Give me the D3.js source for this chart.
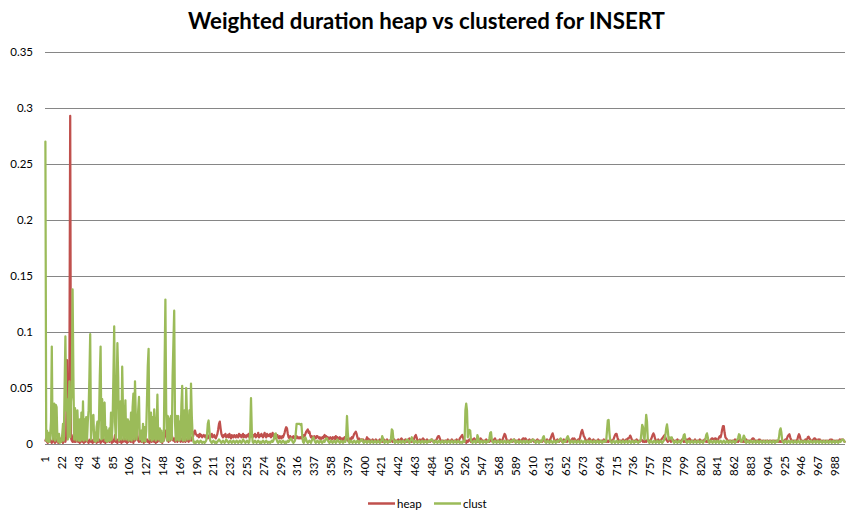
<!DOCTYPE html>
<html><head><meta charset="utf-8">
<script src="https://cdn.jsdelivr.net/npm/d3@7"></script>
<style>body{margin:0;background:#fff}svg{display:block}</style>
</head><body><svg id="c" width="855" height="516"></svg>
<script>
const heap = [
0.003,0.005,0.002,0.001,0.004,0.006,0.003,0.002,0.001,0.003,0.005,0.002,0.001,0.002,0.004,0.003,0.001,0.002,0.005,0.003,
0.002,0.004,0.001,0.003,0.005,0.002,0.006,0.075,0.015,0.012,0.057,0.293,0.005,0.003,0.002,0.008,0.002,0.003,0.002,0.005,
0.003,0.002,0.004,0.001,0.003,0.005,0.002,0.003,0.001,0.004,0.002,0.003,0.005,0.002,0.001,0.003,0.004,0.002,0.003,0.001,
0.004,0.002,0.003,0.005,0.001,0.003,0.002,0.004,0.003,0.001,0.002,0.005,0.003,0.002,0.004,0.001,0.003,0.002,0.004,0.003,
0.002,0.005,0.003,0.001,0.004,0.002,0.003,0.008,0.002,0.004,0.001,0.003,0.005,0.002,0.003,0.001,0.004,0.002,0.003,0.005,
0.002,0.003,0.001,0.004,0.002,0.005,0.003,0.002,0.004,0.003,0.001,0.005,0.003,0.012,0.020,0.008,0.003,0.002,0.004,0.003,
0.002,0.004,0.003,0.001,0.005,0.002,0.003,0.004,0.002,0.003,0.001,0.004,0.003,0.002,0.005,0.003,0.002,0.004,0.001,0.003,
0.002,0.004,0.003,0.005,0.002,0.003,0.001,0.004,0.003,0.008,0.012,0.009,0.004,0.003,0.002,0.005,0.003,0.013,0.008,0.004,
0.003,0.005,0.002,0.004,0.003,0.002,0.005,0.003,0.004,0.002,0.003,0.005,0.002,0.004,0.003,0.002,0.004,0.003,0.005,0.002,
0.004,0.005,0.003,0.006,0.005,0.008,0.011,0.012,0.009,0.008,0.007,0.008,0.006,0.009,0.007,0.008,0.006,0.007,0.008,0.007,
0.006,0.008,0.007,0.005,0.007,0.008,0.006,0.007,0.009,0.006,0.007,0.008,0.006,0.005,0.007,0.009,0.013,0.018,0.020,0.014,
0.009,0.007,0.006,0.008,0.007,0.009,0.006,0.007,0.008,0.006,0.009,0.007,0.005,0.008,0.007,0.006,0.008,0.007,0.006,0.008,
0.007,0.006,0.009,0.007,0.008,0.006,0.007,0.009,0.006,0.008,0.007,0.006,0.008,0.007,0.009,0.006,0.007,0.008,0.007,0.006,
0.008,0.007,0.009,0.006,0.008,0.007,0.010,0.006,0.008,0.007,0.009,0.007,0.006,0.008,0.010,0.007,0.006,0.009,0.007,0.008,
0.007,0.009,0.006,0.008,0.010,0.007,0.006,0.005,0.007,0.006,0.008,0.006,0.005,0.007,0.006,0.005,0.007,0.006,0.008,0.010,
0.013,0.015,0.014,0.009,0.006,0.005,0.007,0.006,0.005,0.006,0.007,0.005,0.006,0.005,0.007,0.006,0.005,0.006,0.005,0.006,
0.005,0.007,0.006,0.008,0.007,0.009,0.011,0.012,0.013,0.010,0.011,0.008,0.006,0.007,0.005,0.006,0.007,0.006,0.005,0.007,
0.007,0.006,0.005,0.006,0.004,0.005,0.006,0.005,0.007,0.008,0.006,0.007,0.005,0.006,0.004,0.005,0.006,0.005,0.004,0.006,
0.005,0.006,0.004,0.007,0.005,0.006,0.004,0.005,0.006,0.004,0.005,0.003,0.005,0.004,0.006,0.004,0.005,0.004,0.003,0.005,
0.004,0.005,0.004,0.006,0.005,0.007,0.009,0.010,0.011,0.009,0.006,0.004,0.005,0.004,0.003,0.004,0.003,0.004,0.003,0.002,
0.003,0.004,0.006,0.005,0.003,0.004,0.003,0.002,0.003,0.004,0.003,0.002,0.003,0.004,0.003,0.003,0.002,0.003,0.004,0.003,
0.003,0.002,0.003,0.004,0.003,0.002,0.003,0.004,0.003,0.002,0.003,0.002,0.004,0.003,0.002,0.003,0.004,0.003,0.002,0.003,
0.003,0.004,0.003,0.002,0.004,0.005,0.004,0.003,0.002,0.003,0.004,0.003,0.002,0.003,0.004,0.005,0.004,0.003,0.002,0.003,
0.003,0.005,0.007,0.008,0.006,0.003,0.002,0.003,0.004,0.003,0.002,0.004,0.005,0.004,0.003,0.002,0.003,0.004,0.003,0.002,
0.003,0.002,0.003,0.004,0.003,0.002,0.003,0.002,0.003,0.004,0.006,0.007,0.007,0.005,0.003,0.002,0.003,0.002,0.003,0.002,
0.003,0.002,0.003,0.004,0.003,0.003,0.002,0.003,0.004,0.003,0.002,0.003,0.002,0.003,0.004,0.003,0.002,0.003,0.005,0.006,
0.007,0.008,0.006,0.003,0.002,0.003,0.001,0.003,0.002,0.003,0.004,0.003,0.002,0.003,0.004,0.003,0.005,0.004,0.003,0.002,
0.003,0.002,0.003,0.004,0.005,0.004,0.003,0.002,0.003,0.002,0.003,0.004,0.003,0.002,0.003,0.002,0.003,0.004,0.003,0.002,
0.003,0.004,0.005,0.003,0.002,0.003,0.002,0.003,0.004,0.003,0.002,0.003,0.005,0.007,0.009,0.008,0.005,0.003,0.002,0.003,
0.002,0.003,0.004,0.003,0.002,0.003,0.004,0.003,0.002,0.003,0.002,0.003,0.004,0.003,0.002,0.003,0.004,0.005,0.005,0.004,
0.005,0.004,0.003,0.002,0.003,0.004,0.003,0.002,0.003,0.004,0.003,0.002,0.003,0.002,0.003,0.004,0.003,0.002,0.003,0.002,
0.003,0.002,0.003,0.004,0.003,0.002,0.003,0.004,0.003,0.002,0.003,0.004,0.006,0.008,0.0095,0.007,0.004,0.003,0.002,0.003,
0.004,0.003,0.002,0.003,0.004,0.003,0.002,0.003,0.004,0.003,0.002,0.003,0.002,0.003,0.004,0.003,0.002,0.003,0.004,0.005,
0.004,0.005,0.004,0.003,0.002,0.003,0.004,0.003,0.005,0.008,0.011,0.0125,0.010,0.007,0.006,0.004,0.003,0.002,0.003,0.004,
0.005,0.004,0.003,0.002,0.003,0.004,0.003,0.002,0.003,0.002,0.003,0.004,0.003,0.003,0.002,0.003,0.002,0.003,0.004,0.003,
0.002,0.003,0.002,0.003,0.002,0.003,0.004,0.003,0.002,0.003,0.004,0.006,0.008,0.009,0.009,0.006,0.004,0.003,0.002,0.003,
0.002,0.003,0.004,0.003,0.002,0.003,0.004,0.003,0.005,0.005,0.006,0.0075,0.006,0.004,0.003,0.002,0.003,0.002,0.003,0.004,
0.003,0.002,0.003,0.002,0.003,0.004,0.003,0.002,0.003,0.002,0.003,0.002,0.003,0.004,0.003,0.002,0.003,0.004,0.006,0.008,
0.0095,0.008,0.005,0.003,0.002,0.003,0.004,0.003,0.002,0.003,0.004,0.005,0.006,0.007,0.008,0.006,0.004,0.003,0.002,0.003,
0.004,0.003,0.002,0.003,0.004,0.003,0.002,0.003,0.002,0.003,0.004,0.003,0.002,0.003,0.002,0.003,0.004,0.003,0.002,0.003,
0.002,0.003,0.004,0.003,0.004,0.005,0.004,0.003,0.002,0.003,0.002,0.003,0.004,0.003,0.002,0.003,0.002,0.003,0.004,0.003,
0.002,0.003,0.002,0.003,0.004,0.003,0.002,0.003,0.002,0.003,0.002,0.003,0.004,0.005,0.005,0.004,0.003,0.005,0.005,0.004,
0.003,0.004,0.006,0.007,0.006,0.009,0.013,0.016,0.016,0.010,0.006,0.005,0.004,0.003,0.002,0.003,0.002,0.003,0.002,0.003,
0.002,0.003,0.004,0.003,0.002,0.003,0.002,0.003,0.004,0.003,0.002,0.003,0.002,0.003,0.002,0.003,0.004,0.003,0.002,0.003,
0.003,0.002,0.003,0.004,0.005,0.005,0.004,0.003,0.002,0.003,0.002,0.003,0.004,0.004,0.003,0.002,0.003,0.002,0.003,0.002,
0.003,0.002,0.003,0.003,0.002,0.003,0.002,0.003,0.002,0.003,0.002,0.003,0.002,0.003,0.002,0.003,0.002,0.003,0.002,0.002,
0.003,0.002,0.003,0.002,0.003,0.004,0.003,0.005,0.007,0.008,0.0087,0.006,0.004,0.003,0.002,0.003,0.002,0.003,0.002,0.003,
0.004,0.007,0.0087,0.007,0.004,0.003,0.002,0.003,0.002,0.003,0.004,0.003,0.004,0.006,0.0065,0.005,0.004,0.003,0.002,0.003,
0.004,0.005,0.005,0.004,0.003,0.003,0.004,0.003,0.004,0.003,0.002,0.003,0.002,0.003,0.002,0.003,0.002,0.003,0.002,0.003,
0.003,0.004,0.004,0.004,0.003,0.002,0.003,0.002,0.003,0.002,0.003,0.002,0.003,0.004,0.003,0.004,0.004,0.004,0.003,0.002
];
const clust = [
0.270,0.003,0.012,0.002,0.010,0.002,0.008,0.020,0.087,0.004,0.030,0.036,0.003,0.035,0.033,0.004,0.002,0.009,0.001,0.004,
0.002,0.008,0.018,0.003,0.050,0.096,0.030,0.040,0.004,0.035,0.056,0.006,0.038,0.045,0.138,0.060,0.004,0.032,0.018,0.003,
0.030,0.012,0.003,0.022,0.003,0.028,0.004,0.038,0.003,0.022,0.004,0.024,0.003,0.020,0.030,0.060,0.098,0.004,0.015,0.025,
0.026,0.003,0.010,0.002,0.015,0.020,0.003,0.022,0.060,0.087,0.004,0.040,0.005,0.036,0.037,0.003,0.015,0.002,0.012,0.003,
0.014,0.003,0.028,0.004,0.020,0.060,0.105,0.020,0.004,0.045,0.090,0.060,0.003,0.010,0.038,0.004,0.069,0.030,0.004,0.022,
0.039,0.004,0.012,0.022,0.003,0.020,0.004,0.028,0.003,0.033,0.045,0.004,0.056,0.025,0.004,0.015,0.030,0.042,0.004,0.008,
0.012,0.002,0.018,0.003,0.015,0.002,0.012,0.040,0.070,0.085,0.004,0.020,0.028,0.003,0.024,0.004,0.031,0.018,0.003,0.010,
0.044,0.004,0.008,0.014,0.002,0.012,0.002,0.010,0.003,0.070,0.129,0.030,0.003,0.025,0.020,0.003,0.022,0.025,0.004,0.060,
0.090,0.119,0.020,0.003,0.025,0.004,0.025,0.003,0.020,0.004,0.035,0.052,0.003,0.015,0.030,0.003,0.050,0.025,0.004,0.012,
0.030,0.004,0.054,0.025,0.008,0.002,0.001,0.002,0.001,0.002,0.003,0.002,0.001,0.002,0.003,0.002,0.001,0.002,0.002,0.001,
0.002,0.003,0.008,0.018,0.021,0.012,0.003,0.002,0.001,0.002,0.003,0.002,0.001,0.002,0.001,0.002,0.003,0.004,0.003,0.002,
0.001,0.002,0.003,0.002,0.001,0.002,0.004,0.003,0.002,0.001,0.002,0.003,0.002,0.001,0.002,0.003,0.002,0.001,0.002,0.003,
0.002,0.001,0.002,0.003,0.002,0.001,0.002,0.004,0.003,0.002,0.001,0.002,0.003,0.002,0.001,0.002,0.010,0.041,0.012,0.002,
0.001,0.002,0.003,0.002,0.001,0.002,0.003,0.002,0.001,0.002,0.001,0.002,0.003,0.002,0.001,0.002,0.003,0.002,0.001,0.002,
0.002,0.001,0.002,0.003,0.002,0.003,0.006,0.009,0.0095,0.004,0.002,0.001,0.002,0.003,0.002,0.001,0.002,0.003,0.002,0.001,
0.002,0.001,0.002,0.003,0.002,0.003,0.004,0.005,0.004,0.002,0.001,0.002,0.003,0.010,0.018,0.018,0.018,0.018,0.018,0.017,
0.018,0.008,0.002,0.001,0.003,0.006,0.004,0.002,0.001,0.002,0.003,0.002,0.001,0.003,0.005,0.006,0.004,0.002,0.001,0.002,
0.003,0.002,0.001,0.002,0.003,0.002,0.001,0.002,0.003,0.002,0.004,0.005,0.005,0.003,0.002,0.001,0.002,0.003,0.002,0.001,
0.002,0.003,0.002,0.001,0.002,0.004,0.003,0.002,0.001,0.002,0.003,0.002,0.001,0.002,0.003,0.002,0.008,0.025,0.010,0.002,
0.001,0.002,0.003,0.002,0.001,0.002,0.003,0.002,0.001,0.002,0.003,0.002,0.001,0.002,0.003,0.004,0.004,0.002,0.001,0.002,
0.003,0.002,0.001,0.002,0.003,0.002,0.001,0.002,0.003,0.002,0.001,0.002,0.003,0.002,0.001,0.002,0.003,0.002,0.001,0.002,
0.003,0.007,0.005,0.002,0.001,0.002,0.003,0.002,0.001,0.002,0.003,0.002,0.005,0.013,0.012,0.004,0.002,0.001,0.002,0.003,
0.002,0.001,0.002,0.003,0.002,0.001,0.002,0.003,0.002,0.001,0.002,0.003,0.004,0.004,0.002,0.001,0.002,0.004,0.006,0.004,
0.002,0.001,0.002,0.003,0.002,0.001,0.002,0.003,0.002,0.001,0.002,0.003,0.002,0.001,0.002,0.003,0.002,0.001,0.002,0.003,
0.002,0.003,0.004,0.004,0.003,0.002,0.001,0.002,0.003,0.002,0.001,0.002,0.003,0.002,0.001,0.002,0.003,0.002,0.001,0.002,
0.003,0.002,0.001,0.002,0.003,0.002,0.001,0.002,0.003,0.002,0.001,0.002,0.003,0.002,0.001,0.002,0.003,0.002,0.001,0.002,
0.002,0.001,0.002,0.003,0.002,0.030,0.036,0.030,0.006,0.012,0.0125,0.012,0.003,0.002,0.001,0.002,0.003,0.002,0.001,0.002,
0.008,0.006,0.002,0.001,0.002,0.003,0.002,0.001,0.002,0.003,0.002,0.001,0.002,0.003,0.002,0.005,0.010,0.0105,0.004,0.002,
0.001,0.002,0.003,0.002,0.001,0.002,0.003,0.002,0.001,0.002,0.003,0.002,0.001,0.002,0.003,0.002,0.001,0.002,0.003,0.002,
0.001,0.002,0.003,0.002,0.003,0.004,0.004,0.002,0.001,0.002,0.003,0.002,0.001,0.002,0.003,0.002,0.001,0.002,0.003,0.002,
0.001,0.002,0.003,0.002,0.001,0.002,0.003,0.002,0.003,0.004,0.004,0.003,0.002,0.001,0.002,0.003,0.002,0.001,0.002,0.003,
0.002,0.003,0.006,0.007,0.004,0.002,0.001,0.002,0.003,0.002,0.001,0.002,0.003,0.002,0.001,0.002,0.003,0.002,0.001,0.002,
0.003,0.002,0.003,0.004,0.005,0.004,0.002,0.001,0.002,0.003,0.002,0.004,0.006,0.007,0.005,0.002,0.001,0.002,0.003,0.002,
0.001,0.002,0.003,0.002,0.001,0.002,0.003,0.002,0.001,0.002,0.003,0.002,0.001,0.002,0.003,0.002,0.001,0.002,0.003,0.002,
0.001,0.002,0.003,0.002,0.001,0.002,0.003,0.002,0.001,0.002,0.003,0.002,0.001,0.002,0.003,0.002,0.001,0.002,0.003,0.002,
0.002,0.003,0.012,0.021,0.0215,0.010,0.003,0.002,0.001,0.002,0.003,0.002,0.001,0.002,0.003,0.002,0.001,0.002,0.003,0.002,
0.001,0.002,0.003,0.002,0.001,0.002,0.003,0.002,0.001,0.002,0.003,0.002,0.001,0.002,0.003,0.002,0.001,0.002,0.003,0.002,
0.002,0.001,0.002,0.003,0.003,0.010,0.017,0.015,0.006,0.004,0.015,0.026,0.020,0.004,0.002,0.001,0.002,0.003,0.002,0.001,
0.002,0.003,0.002,0.001,0.002,0.003,0.002,0.001,0.002,0.003,0.002,0.001,0.002,0.003,0.005,0.008,0.014,0.0175,0.012,0.004,
0.006,0.005,0.006,0.006,0.003,0.002,0.001,0.002,0.003,0.002,0.001,0.002,0.003,0.002,0.001,0.002,0.003,0.005,0.008,0.0087,
0.004,0.002,0.001,0.002,0.003,0.002,0.001,0.002,0.003,0.002,0.001,0.002,0.003,0.002,0.001,0.002,0.003,0.002,0.001,0.002,
0.003,0.002,0.001,0.002,0.003,0.004,0.008,0.0095,0.006,0.002,0.001,0.002,0.003,0.002,0.001,0.002,0.003,0.002,0.001,0.002,
0.003,0.002,0.001,0.002,0.003,0.002,0.001,0.002,0.003,0.002,0.001,0.002,0.003,0.002,0.001,0.002,0.003,0.002,0.001,0.002,
0.003,0.002,0.001,0.002,0.003,0.004,0.006,0.0087,0.008,0.003,0.002,0.003,0.005,0.0075,0.006,0.002,0.001,0.002,0.003,0.002,
0.001,0.002,0.003,0.002,0.001,0.002,0.003,0.002,0.001,0.002,0.003,0.002,0.001,0.002,0.003,0.002,0.001,0.002,0.003,0.002,
0.001,0.002,0.003,0.002,0.001,0.002,0.003,0.002,0.001,0.002,0.003,0.002,0.001,0.002,0.003,0.002,0.003,0.006,0.012,0.014,
0.010,0.003,0.002,0.001,0.002,0.003,0.002,0.001,0.002,0.003,0.002,0.001,0.002,0.003,0.002,0.001,0.002,0.003,0.002,0.001,
0.002,0.003,0.002,0.001,0.002,0.003,0.002,0.001,0.002,0.003,0.002,0.001,0.002,0.003,0.002,0.001,0.002,0.003,0.002,0.001,
0.002,0.003,0.002,0.001,0.002,0.003,0.002,0.001,0.002,0.003,0.002,0.001,0.002,0.003,0.002,0.001,0.002,0.003,0.002,0.001,
0.002,0.003,0.002,0.001,0.002,0.003,0.002,0.001,0.002,0.003,0.002,0.001,0.002,0.003,0.002,0.003,0.004,0.004,0.003,0.002
];
const categories = heap.map((d, i) => i + 1);
const tickLabels = [1,22,43,64,85,106,127,148,169,190,211,232,253,274,295,316,337,358,379,400,421,442,463,484,505,526,547,568,589,610,631,652,673,694,715,736,757,778,799,820,841,862,883,904,925,946,967,988];
const yTicks = [0,0.05,0.1,0.15,0.2,0.25,0.3,0.35];
const seriesNames = ["heap","clust"];
const seriesColors = ["#C0504D","#9BBB59"];
const title = "Weighted duration heap vs clustered for INSERT";

const svg = d3.select("#c");
const font = "Lato, 'Open Sans', sans-serif";
const x = d3.scaleBand().domain(categories).range([45, 845]);
const y = d3.scaleLinear().domain([0, 0.35]).range([444, 52]);

svg.append("g").selectAll("line").data(yTicks).join("line")
  .attr("x1", 45).attr("x2", 845)
  .attr("y1", d => Math.round(y(d)) + 0.5).attr("y2", d => Math.round(y(d)) + 0.5)
  .attr("stroke", "#868686").attr("stroke-width", 1);

svg.append("g").selectAll("text").data(yTicks).join("text")
  .attr("x", 33).attr("y", d => y(d)).attr("dy", "0.35em")
  .attr("text-anchor", "end").attr("font-family", font).attr("font-size", 11.5).attr("fill", "#000")
  .text(d => d === 0 ? "0" : String(d));

svg.append("g").selectAll("text").data(tickLabels).join("text")
  .attr("transform", d => `translate(${x(d) + x.bandwidth()/2},456) rotate(-90)`)
  .attr("dy", "0.35em").attr("text-anchor", "end")
  .attr("font-family", font).attr("font-size", 11.5).attr("fill", "#000")
  .text(d => d);

const line = d3.line().x((d, i) => x(categories[i]) + x.bandwidth()/2).y(d => y(d));
[heap, clust].forEach((s, k) => {
  svg.append("path").datum(s).attr("d", line).attr("fill", "none")
    .attr("stroke", seriesColors[k]).attr("stroke-width", 2.25)
    .attr("stroke-linejoin", "round").attr("stroke-linecap", "round");
});

const t = svg.append("text").attr("x", 427).attr("y", 29).attr("text-anchor", "middle")
  .attr("font-family", font).attr("font-weight", "bold").attr("font-size", 20).attr("fill", "#000").text(title);
const tw = t.node().getComputedTextLength();
t.attr("font-size", 20 * 477 / tw).attr("x", 188 + 477/2);

const legX = [368, 434];
seriesNames.forEach((n, k) => {
  svg.append("line").attr("x1", legX[k]).attr("x2", legX[k] + 27).attr("y1", 503.5).attr("y2", 503.5)
    .attr("stroke", seriesColors[k]).attr("stroke-width", 2.5);
  svg.append("text").attr("x", legX[k] + 29).attr("y", 503.5).attr("dy", "0.35em")
    .attr("font-family", font).attr("font-size", 11.5).attr("fill", "#000").text(n);
});
</script></body></html>
